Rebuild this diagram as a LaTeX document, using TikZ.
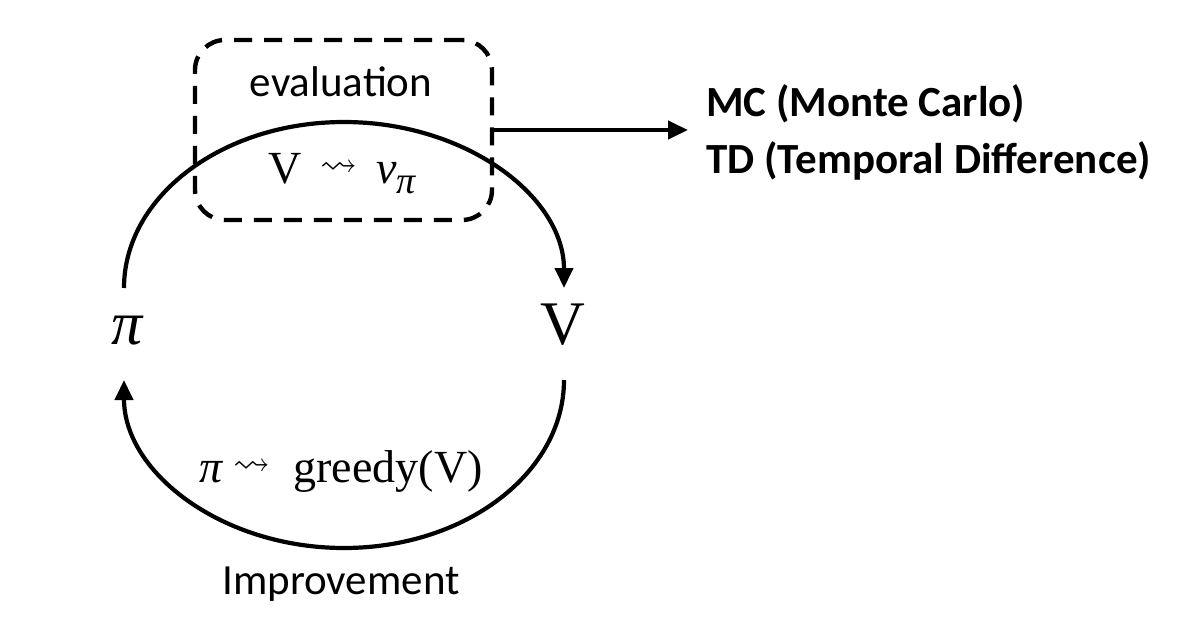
\documentclass[tikz,border=0pt]{standalone}
\usepackage{amssymb}
\usepackage{fontspec}
\setmainfont{Liberation Serif}
\setsansfont{Carlito}
\usetikzlibrary{arrows.meta}
\tikzset{
  arcline/.style = {line width=2.1pt, -{Triangle[length=10pt,width=9pt]}},
  bigsym/.style = {font=\fontsize{31}{36}\selectfont, inner sep=0pt},
  serifl/.style = {font=\fontsize{23}{27}\selectfont},
  sansl/.style = {font=\sffamily\fontsize{21.5}{26}\selectfont}
}
\newcommand{\sqarr}{\raisebox{0.35ex}{\scalebox{0.8}{$\rightsquigarrow$}}}
\newcommand{\vpi}{{\itshape v}\raisebox{-0.5ex}{\fontsize{19}{22}\selectfont\itshape π}}
\begin{document}
\begin{tikzpicture}[x=0.5pt, y=0.5pt]
   \useasboundingbox (0,0) rectangle (1201,623);
   \node[bigsym] (pi) at (127,292) {\itshape π};
   \node[bigsym] (V) at (563,298) {V};
   \coordinate (pitop) at (124,335);
   \coordinate (vbot) at (564,243);
   % evaluation / improvement arcs
   \draw[arcline] (pitop) arc[start angle=180, end angle=0, x radius=220, y radius=166];
   \draw[arcline] (vbot) arc[start angle=0, end angle=-180, x radius=220, y radius=168];
   \node[draw, line width=2.2pt, dash pattern=on 9pt off 6pt,
         rounded corners=15pt, minimum width=148.5pt, minimum height=90pt] (box) at (343.5,493) {};
   \node[sansl] (eval) at (341,541) {evaluation};
   \node[serifl, anchor=base] (evalrule) at (342,440) {V\ \,\sqarr\ \,\vpi};
   \node[serifl, anchor=base] (imprule) at (341,141) {{\itshape π}\ \sqarr\ \ greedy(V)};
   \node[sansl] (impr) at (341,39) {Improvement};
   \node[font=\sffamily\bfseries\fontsize{21.5}{28.5}\selectfont, align=left,
         anchor=west, inner sep=0pt, inner xsep=9pt] (methods) at (688,491)
         {MC (Monte Carlo)\\TD (Temporal Difference)};
   \draw[arcline] (box.east) -- (box.east -| methods.west);
\end{tikzpicture}
\end{document}
